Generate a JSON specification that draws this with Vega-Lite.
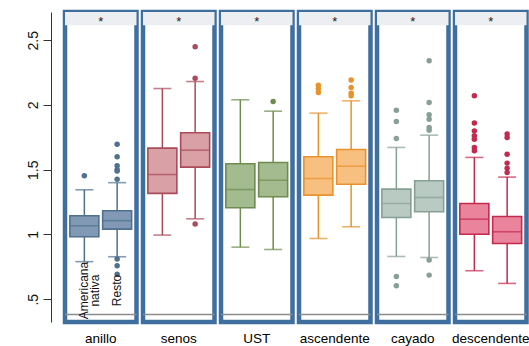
{
  "$schema": "https://vega.github.io/schema/vega-lite/v6.json",
  "background": "white",
  "padding": {"left": 26, "top": 9, "right": 0, "bottom": 0},
  "data": {"values": [
    {"kind": "box", "region": "anillo", "group": "Americana nativa", "lo": 0.79, "q1": 0.982, "med": 1.067, "q3": 1.144, "hi": 1.345},
    {"kind": "box", "region": "anillo", "group": "Resto", "lo": 0.828, "q1": 1.041, "med": 1.106, "q3": 1.183, "hi": 1.40},
    {"kind": "box", "region": "senos", "group": "Americana nativa", "lo": 0.995, "q1": 1.317, "med": 1.463, "q3": 1.667, "hi": 2.127},
    {"kind": "box", "region": "senos", "group": "Resto", "lo": 1.121, "q1": 1.52, "med": 1.651, "q3": 1.785, "hi": 2.181},
    {"kind": "box", "region": "UST", "group": "Americana nativa", "lo": 0.902, "q1": 1.206, "med": 1.347, "q3": 1.546, "hi": 2.04},
    {"kind": "box", "region": "UST", "group": "Resto", "lo": 0.884, "q1": 1.291, "med": 1.419, "q3": 1.556, "hi": 1.952},
    {"kind": "box", "region": "ascendente", "group": "Americana nativa", "lo": 0.969, "q1": 1.304, "med": 1.432, "q3": 1.6, "hi": 1.937},
    {"kind": "box", "region": "ascendente", "group": "Resto", "lo": 1.059, "q1": 1.388, "med": 1.527, "q3": 1.656, "hi": 2.032},
    {"kind": "box", "region": "cayado", "group": "Americana nativa", "lo": 0.83, "q1": 1.131, "med": 1.239, "q3": 1.35, "hi": 1.672},
    {"kind": "box", "region": "cayado", "group": "Resto", "lo": 0.822, "q1": 1.175, "med": 1.286, "q3": 1.415, "hi": 1.767},
    {"kind": "box", "region": "descendente", "group": "Americana nativa", "lo": 0.72, "q1": 1.002, "med": 1.118, "q3": 1.239, "hi": 1.595},
    {"kind": "box", "region": "descendente", "group": "Resto", "lo": 0.622, "q1": 0.93, "med": 1.021, "q3": 1.139, "hi": 1.443},

    {"kind": "out", "region": "anillo", "group": "Americana nativa", "v": 1.453},
    {"kind": "out", "region": "anillo", "group": "Resto", "v": 1.697},
    {"kind": "out", "region": "anillo", "group": "Resto", "v": 1.6},
    {"kind": "out", "region": "anillo", "group": "Resto", "v": 1.53},
    {"kind": "out", "region": "anillo", "group": "Resto", "v": 1.5},
    {"kind": "out", "region": "anillo", "group": "Resto", "v": 1.49},
    {"kind": "out", "region": "anillo", "group": "Resto", "v": 1.427},
    {"kind": "out", "region": "anillo", "group": "Resto", "v": 0.81},
    {"kind": "out", "region": "anillo", "group": "Resto", "v": 0.758},
    {"kind": "out", "region": "anillo", "group": "Resto", "v": 0.693},
    {"kind": "out", "region": "senos", "group": "Resto", "v": 2.449},
    {"kind": "out", "region": "senos", "group": "Resto", "v": 2.207},
    {"kind": "out", "region": "senos", "group": "Resto", "v": 1.08},
    {"kind": "out", "region": "UST", "group": "Resto", "v": 2.027},
    {"kind": "out", "region": "ascendente", "group": "Americana nativa", "v": 2.153},
    {"kind": "out", "region": "ascendente", "group": "Americana nativa", "v": 2.125},
    {"kind": "out", "region": "ascendente", "group": "Americana nativa", "v": 2.097},
    {"kind": "out", "region": "ascendente", "group": "Resto", "v": 2.192},
    {"kind": "out", "region": "ascendente", "group": "Resto", "v": 2.135},
    {"kind": "out", "region": "ascendente", "group": "Resto", "v": 2.091},
    {"kind": "out", "region": "ascendente", "group": "Resto", "v": 2.071},
    {"kind": "out", "region": "cayado", "group": "Americana nativa", "v": 1.96},
    {"kind": "out", "region": "cayado", "group": "Americana nativa", "v": 1.873},
    {"kind": "out", "region": "cayado", "group": "Americana nativa", "v": 1.741},
    {"kind": "out", "region": "cayado", "group": "Americana nativa", "v": 0.676},
    {"kind": "out", "region": "cayado", "group": "Americana nativa", "v": 0.604},
    {"kind": "out", "region": "cayado", "group": "Resto", "v": 2.341},
    {"kind": "out", "region": "cayado", "group": "Resto", "v": 2.019},
    {"kind": "out", "region": "cayado", "group": "Resto", "v": 1.924},
    {"kind": "out", "region": "cayado", "group": "Resto", "v": 1.89},
    {"kind": "out", "region": "cayado", "group": "Resto", "v": 1.826},
    {"kind": "out", "region": "cayado", "group": "Resto", "v": 1.805},
    {"kind": "out", "region": "cayado", "group": "Resto", "v": 0.802},
    {"kind": "out", "region": "cayado", "group": "Resto", "v": 0.686},
    {"kind": "out", "region": "descendente", "group": "Americana nativa", "v": 2.071},
    {"kind": "out", "region": "descendente", "group": "Americana nativa", "v": 1.86},
    {"kind": "out", "region": "descendente", "group": "Americana nativa", "v": 1.8},
    {"kind": "out", "region": "descendente", "group": "Americana nativa", "v": 1.762},
    {"kind": "out", "region": "descendente", "group": "Americana nativa", "v": 1.736},
    {"kind": "out", "region": "descendente", "group": "Americana nativa", "v": 1.672},
    {"kind": "out", "region": "descendente", "group": "Americana nativa", "v": 1.646},
    {"kind": "out", "region": "descendente", "group": "Resto", "v": 1.775},
    {"kind": "out", "region": "descendente", "group": "Resto", "v": 1.749},
    {"kind": "out", "region": "descendente", "group": "Resto", "v": 1.62},
    {"kind": "out", "region": "descendente", "group": "Resto", "v": 1.551},
    {"kind": "out", "region": "descendente", "group": "Resto", "v": 1.512},
    {"kind": "out", "region": "descendente", "group": "Resto", "v": 1.479},

    {"kind": "lab", "region": "anillo", "group": "Americana nativa", "label": "Americana\nnativa"},
    {"kind": "lab", "region": "anillo", "group": "Resto", "label": "Resto"},

    {"kind": "star", "region": "anillo", "label": "*"},
    {"kind": "star", "region": "senos", "label": "*"},
    {"kind": "star", "region": "UST", "label": "*"},
    {"kind": "star", "region": "ascendente", "label": "*"},
    {"kind": "star", "region": "cayado", "label": "*"},
    {"kind": "star", "region": "descendente", "label": "*"}
  ]},
  "spacing": 0,
  "facet": {
    "column": {
      "field": "region",
      "type": "nominal",
      "sort": ["anillo", "senos", "UST", "ascendente", "cayado", "descendente"],
      "header": {"title": null, "labelOrient": "bottom", "labelFontSize": 13.5, "labelColor": "#000000", "labelFont": "Liberation Sans", "labelPadding": 7}
    }
  },
  "spec": {
    "width": 71.5,
    "height": 310,
    "encoding": {
      "x": {"field": "group", "type": "nominal", "axis": null, "scale": {"domain": ["Americana nativa", "Resto"], "paddingInner": 0, "paddingOuter": 0.09}}
    },
    "layer": [
      {
        "transform": [{"filter": "datum.kind == 'star'"}],
        "mark": {"type": "rect", "fill": "#eceef1"},
        "encoding": {
          "x": null,
          "y": {"datum": 2.615, "type": "quantitative",
            "scale": {"domain": [0.324, 2.718], "nice": false, "zero": false},
            "axis": {
              "values": [0.5, 1, 1.5, 2, 2.5],
              "title": null,
              "offset": 11,
              "tickSize": 8,
              "tickColor": "#333333",
              "domainColor": "#333333",
              "labelAngle": -90,
              "labelAlign": "center",
              "labelBaseline": "bottom",
              "labelPadding": 3,
              "labelFontSize": 14,
              "labelColor": "#111111",
              "labelExpr": "datum.value == 0.5 ? '.5' : format(datum.value, '~g')",
              "gridColor": "#e3e6ea",
              "gridWidth": 1
            }
          },
          "y2": {"datum": 2.718}
        }
      },
      {
        "transform": [{"filter": "datum.kind == 'star'"}],
        "mark": {"type": "rule", "stroke": "#8c8c8c", "strokeWidth": 1.5},
        "encoding": {"x": null, "y": {"datum": 0.382, "type": "quantitative"}}
      },
      {
        "transform": [{"filter": "datum.kind == 'box'"}],
        "mark": {"type": "rule", "strokeWidth": 1.5},
        "encoding": {
          "y": {"field": "lo", "type": "quantitative"},
          "y2": {"field": "hi"},
          "stroke": {"field": "region", "type": "nominal", "legend": null, "scale": {"domain": ["anillo", "senos", "UST", "ascendente", "cayado", "descendente"], "range": ["#50708f", "#aa4b5a", "#6e8c4d", "#e9922b", "#87a095", "#c42a4e"]}}
        }
      },
      {
        "transform": [{"filter": "datum.kind == 'box'"}],
        "mark": {"type": "tick", "size": 18, "thickness": 1.6},
        "encoding": {
          "y": {"field": "lo", "type": "quantitative"},
          "color": {"field": "region", "type": "nominal", "legend": null, "scale": {"domain": ["anillo", "senos", "UST", "ascendente", "cayado", "descendente"], "range": ["#50708f", "#aa4b5a", "#6e8c4d", "#e9922b", "#87a095", "#c42a4e"]}}
        }
      },
      {
        "transform": [{"filter": "datum.kind == 'box'"}],
        "mark": {"type": "tick", "size": 18, "thickness": 1.6},
        "encoding": {
          "y": {"field": "hi", "type": "quantitative"},
          "color": {"field": "region", "type": "nominal", "legend": null}
        }
      },
      {
        "transform": [{"filter": "datum.kind == 'box'"}],
        "mark": {"type": "bar", "size": 29, "strokeWidth": 1.6},
        "encoding": {
          "y": {"field": "q1", "type": "quantitative"},
          "y2": {"field": "q3"},
          "fill": {"field": "region", "type": "nominal", "legend": null, "scale": {"domain": ["anillo", "senos", "UST", "ascendente", "cayado", "descendente"], "range": ["#8199b4", "#d9a0a6", "#a4ba8f", "#f7c080", "#b9cac2", "#e9849c"]}},
          "stroke": {"field": "region", "type": "nominal", "legend": null}
        }
      },
      {
        "transform": [{"filter": "datum.kind == 'box'"}],
        "mark": {"type": "tick", "size": 29, "thickness": 1.6},
        "encoding": {
          "y": {"field": "med", "type": "quantitative"},
          "color": {"field": "region", "type": "nominal", "legend": null}
        }
      },
      {
        "transform": [{"filter": "datum.kind == 'out'"}],
        "mark": {"type": "point", "filled": true, "size": 30, "opacity": 1},
        "encoding": {
          "y": {"field": "v", "type": "quantitative"},
          "color": {"field": "region", "type": "nominal", "legend": null}
        }
      },
      {
        "transform": [{"filter": "datum.kind == 'lab'"}],
        "mark": {"type": "text", "angle": 270, "align": "center", "baseline": "middle", "fontSize": 12, "font": "Liberation Sans", "lineBreak": "\n", "lineHeight": 11, "color": "#111111"},
        "encoding": {
          "y": {"datum": 0.567, "type": "quantitative"},
          "text": {"field": "label"}
        }
      },
      {
        "transform": [{"filter": "datum.kind == 'star'"}],
        "mark": {"type": "text", "fontSize": 13, "font": "Liberation Sans", "baseline": "middle", "color": "#222222"},
        "encoding": {
          "x": null,
          "y": {"datum": 2.64, "type": "quantitative"},
          "text": {"field": "label"}
        }
      }
    ]
  },
  "resolve": {"scale": {"y": "shared", "x": "shared"}},
  "config": {
    "font": "Liberation Sans",
    "view": {"stroke": "#3f6f9e", "strokeWidth": 4.5}
  }
}
